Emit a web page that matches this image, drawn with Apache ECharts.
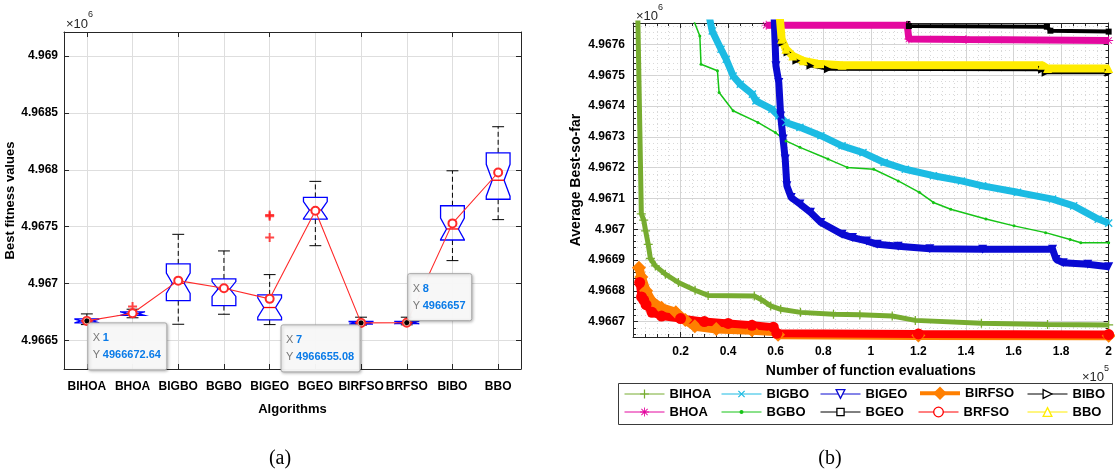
<!DOCTYPE html>
<html>
<head>
<meta charset="utf-8">
<title>Boxplot and convergence curves</title>
<script src="https://cdn.jsdelivr.net/npm/echarts@6.0.0/dist/echarts.min.js"></script>
<style>
html,body{margin:0;padding:0;background:#ffffff;}
#chart{width:1115px;height:475px;}
</style>
</head>
<body>
<div id="chart"></div>
<script>
// ================= Panel (a): box plot data =================
const algorithms   = ['BIHOA','BHOA','BIGBO','BGBO','BIGEO','BGEO','BIRFSO','BRFSO','BIBO','BBO'];
const lowerWhisker = [4966640, 4966700, 4966643, 4966731, 4966640, 4967333, 4966636, 4966638, 4967202, 4967562];
const q1Values     = [4966655, 4966722, 4966851, 4966807, 4966681, 4967567, 4966645, 4966648, 4967383, 4967741];
const medianValues = [4966672, 4966737, 4967003, 4966953, 4966790, 4967646, 4966655, 4966657, 4967480, 4967908];
const q3Values     = [4966690, 4966751, 4967173, 4967041, 4966901, 4967757, 4966668, 4966668, 4967684, 4968149];
const upperWhisker = [4966734, 4966775, 4967433, 4967287, 4967079, 4967898, 4966705, 4966705, 4967991, 4968378];
const notchHalf    = [15, 15, 90, 65, 85, 75, 10, 10, 95, 140];
const meanValues   = [4966672.64, 4966740, 4967026, 4966959, 4966866, 4967640, 4966655.08, 4966657, 4967529, 4967976];
const outlierPoints = [[1, 4966798], [4, 4967591], [4, 4967602], [4, 4967406]];
const tipIndices   = [0, 6, 7];

// ================= Panel (b): convergence curves [evaluations, value] =================
const curveBIHOA = [[2000, 4967700], [3500, 4967050], [4500, 4967030], [5300, 4966995], [6400, 4966951], [7300, 4966905], [9400, 4966881], [13600, 4966854], [19100, 4966827], [26100, 4966802], [31600, 4966785], [51000, 4966783], [53800, 4966772], [57900, 4966751], [62100, 4966740], [70400, 4966730], [84300, 4966724], [95400, 4966722], [109000, 4966718], [118700, 4966704], [146500, 4966695], [174300, 4966691], [200000, 4966689]];
const curveBHOA  = [[56000, 4967663], [115300, 4967663], [116000, 4967618], [140000, 4967616], [200000, 4967613]];
const curveBIGBO = [[31800, 4967700], [33300, 4967644], [37000, 4967585], [39200, 4967552], [42100, 4967498], [45100, 4967471], [50200, 4967439], [51700, 4967417], [58400, 4967390], [61300, 4967368], [64300, 4967347], [70200, 4967331], [79000, 4967304], [87900, 4967271], [96700, 4967249], [105600, 4967217], [114500, 4967195], [126300, 4967174], [138100, 4967157], [147000, 4967141], [161700, 4967120], [176400, 4967098], [185300, 4967076], [195600, 4967033], [200000, 4967020]];
const curveBGBO  = [[24400, 4967700], [28100, 4967628], [28600, 4967536], [35500, 4967515], [36200, 4967444], [42100, 4967385], [52500, 4967347], [59900, 4967314], [64300, 4967287], [70200, 4967266], [82000, 4967228], [90100, 4967201], [101200, 4967195], [111500, 4967157], [120400, 4967120], [126300, 4967087], [133600, 4967065], [148400, 4967033], [160200, 4967011], [173500, 4966989], [183800, 4966967], [188300, 4966956], [200000, 4966956]];
const curveBIGEO = [[59300, 4967700], [60100, 4967531], [61300, 4967477], [62100, 4967368], [63100, 4967293], [64000, 4967228], [64700, 4967141], [66500, 4967103], [70200, 4967082], [74600, 4967055], [79000, 4967022], [87900, 4966984], [92300, 4966973], [98200, 4966962], [102700, 4966951], [111500, 4966945], [124800, 4966937], [147000, 4966935], [176400, 4966935], [177900, 4966902], [180900, 4966891], [191200, 4966886], [200000, 4966878]];
const curveBGEO  = [[115300, 4967700], [116000, 4967660], [174000, 4967658], [175500, 4967645], [200000, 4967642]];
const curveBIRFSO = [[2500, 4966875], [3500, 4966845], [5500, 4966800], [8000, 4966765], [12000, 4966745], [18000, 4966730], [22000, 4966705], [26000, 4966685], [35000, 4966676], [50000, 4966672], [59500, 4966668], [61000, 4966657], [120000, 4966655], [200000, 4966654]];
const curveBRFSO = [[2800, 4966827], [3600, 4966780], [4500, 4966770], [5500, 4966755], [8000, 4966730], [12000, 4966718], [20000, 4966710], [30000, 4966700], [40000, 4966694], [50000, 4966688], [59000, 4966682], [60500, 4966662], [120000, 4966660], [200000, 4966658]];
const curveBIBO  = [[61300, 4967700], [62800, 4967606], [65000, 4967574], [68700, 4967547], [74600, 4967531], [82000, 4967520], [172000, 4967518], [173500, 4967508], [200000, 4967508]];
const curveBBO   = [[61600, 4967700], [62500, 4967617], [64300, 4967585], [67200, 4967563], [71700, 4967547], [77600, 4967538], [87900, 4967533], [172000, 4967533], [174300, 4967522], [200000, 4967522]];

// ================= styling =================
const FONT = "'Liberation Sans', Arial, sans-serif";
const AX = '#262626';
const PLUS = 'path://M4.3,0H5.7V10H4.3Z M0,4.3H10V5.7H0Z';
const PLUS_BOLD = 'path://M3.9,0H6.1V10H3.9Z M0,3.9H10V6.1H0Z';
const STAR = 'path://M4.5,0H5.5V10H4.5Z M0,4.5H10V5.5H0Z M1.1,1.8L1.8,1.1L8.9,8.2L8.2,8.9Z M8.2,1.1L8.9,1.8L1.8,8.9L1.1,8.2Z';

const convOrder = ['BIHOA','BHOA','BIGBO','BGBO','BIGEO','BGEO','BIRFSO','BRFSO','BIBO','BBO'];
const convData = {BIHOA: curveBIHOA, BHOA: curveBHOA, BIGBO: curveBIGBO, BGBO: curveBGBO, BIGEO: curveBIGEO,
                  BGEO: curveBGEO, BIRFSO: curveBIRFSO, BRFSO: curveBRFSO, BIBO: curveBIBO, BBO: curveBBO};
const convStyle = {
  BIHOA:  {color:'#77ac30', width:5,   symbol:PLUS,       size:9,  rot:0,   legLine:1, legH:11, hollow:false},
  BHOA:   {color:'#e4089f', width:7,   symbol:STAR,       size:9,  rot:0,   legLine:1, legH:11, hollow:false},
  BIGBO:  {color:'#1cbbe3', width:7,   symbol:PLUS,       size:10, rot:45,  legLine:1, legH:11, hollow:false},
  BGBO:   {color:'#16c416', width:1.5, symbol:'circle',   size:3,  rot:0,   legLine:1, legH:5,  hollow:false},
  BIGEO:  {color:'#0a0ad2', width:7,   symbol:'triangle', size:9,  rot:180, legLine:1, legH:11, hollow:true},
  BGEO:   {color:'#000000', width:4,   symbol:'rect',     size:6,  rot:0,   legLine:1, legH:9,  hollow:true},
  BIRFSO: {color:'#ff7f00', width:9,   symbol:'diamond',  size:14, rot:0,   legLine:4, legH:17, hollow:false},
  BRFSO:  {color:'#ff0000', width:8,   symbol:'circle',   size:11, rot:0,   legLine:1, legH:12, hollow:true},
  BIBO:   {color:'#000000', width:3,   symbol:'triangle', size:8,  rot:-90, legLine:1, legH:11, hollow:true},
  BBO:    {color:'#ffec00', width:8,   symbol:'triangle', size:9,  rot:0,   legLine:1, legH:11, hollow:true}
};
const legendLayout = {
  BIHOA:[624,395], BIGBO:[721,395], BIGEO:[820,395], BIRFSO:[918,395], BIBO:[1027,395],
  BHOA:[624,413],  BGBO:[721,413],  BGEO:[820,413],  BRFSO:[918,413],  BBO:[1027,413]
};
const tipPlacement = ['rd', 'ld', 'ru'];

// tip font (narrow if available)
const measureCtx = document.createElement('canvas').getContext('2d');
const narrowOK = (() => {
  measureCtx.font = "bold 13px monospace"; const a = measureCtx.measureText('4966672.64').width;
  measureCtx.font = "bold 13px 'Liberation Sans Narrow', monospace"; const b = measureCtx.measureText('4966672.64').width;
  return Math.abs(a - b) > 0.5;
})();
const TIP_FONT = narrowOK ? "bold 13px 'Liberation Sans Narrow'" : "bold 11px 'Liberation Sans'";
const TIP_KEY_FONT = narrowOK ? "13px 'Liberation Sans Narrow'" : "11px 'Liberation Sans'";
function textW(font, s) { measureCtx.font = font; return measureCtx.measureText(s).width; }

function fmtMillions(v) { return parseFloat((v / 1e6).toFixed(4)).toString(); }

function renderBox(params, api) {
  const i = api.value(0);
  const med = api.value(3);
  const x = api.coord([i, med])[0];
  const yv = k => api.coord([i, api.value(k)])[1];
  const yLW = yv(1), yQ1 = yv(2), yMed = yv(3), yQ3 = yv(4), yUW = yv(5);
  const nh = api.value(6);
  const yNH = api.coord([i, med + nh])[1];
  const yNL = api.coord([i, med - nh])[1];
  const band = api.size([1, 0])[0];
  const w = band * 0.26, wn = w * 0.5, wc = w * 0.5;
  const dash = {stroke:'#000', lineWidth:1, lineDash:[5, 3]};
  const solid = {stroke:'#000', lineWidth:1};
  return {type:'group', children:[
    {type:'line', shape:{x1:x, y1:yQ3, x2:x, y2:yUW}, style:dash},
    {type:'line', shape:{x1:x, y1:yQ1, x2:x, y2:yLW}, style:dash},
    {type:'line', shape:{x1:x-wc, y1:yUW, x2:x+wc, y2:yUW}, style:solid},
    {type:'line', shape:{x1:x-wc, y1:yLW, x2:x+wc, y2:yLW}, style:solid},
    {type:'polygon', shape:{points:[[x-w,yQ3],[x+w,yQ3],[x+w,yNH],[x+wn,yMed],[x+w,yNL],[x+w,yQ1],[x-w,yQ1],[x-w,yNL],[x-wn,yMed],[x-w,yNH]]},
     style:{fill:'none', stroke:'#0000ff', lineWidth:1.3}},
    {type:'line', shape:{x1:x-wn, y1:yMed, x2:x+wn, y2:yMed}, style:{stroke:'#ff0000', lineWidth:1.3}}
  ]};
}

function renderTip(params, api) {
  const idx = api.value(0), val = api.value(1);
  const p = api.coord([idx, val]);
  const place = tipPlacement[params.dataIndex];
  const valStr = String(meanValues[idx]);
  const w = Math.round(15 + textW(TIP_FONT, valStr) + 6), h = 47;
  const x = place[0] === 'r' ? p[0] + 1 : p[0] - w - 1;
  const y = place[1] === 'd' ? p[1] + 2 : p[1] - h - 2;
  return {type:'group', children:[
    {type:'rect', shape:{x:x, y:y, width:w, height:h, r:2},
     style:{fill:'rgba(249,249,249,0.97)', stroke:'#a8a8a8', lineWidth:1, shadowBlur:3, shadowColor:'rgba(0,0,0,0.25)', shadowOffsetX:1, shadowOffsetY:1}},
    {type:'text', style:{x:x+5, y:y+15, text:'X', font:TIP_KEY_FONT, fill:'#777', verticalAlign:'middle'}},
    {type:'text', style:{x:x+15, y:y+15, text:String(idx + 1), font:TIP_FONT, fill:'#0a7be8', verticalAlign:'middle'}},
    {type:'text', style:{x:x+5, y:y+32, text:'Y', font:TIP_KEY_FONT, fill:'#777', verticalAlign:'middle'}},
    {type:'text', style:{x:x+15, y:y+32, text:valStr, font:TIP_FONT, fill:'#0a7be8', verticalAlign:'middle'}},
    {type:'circle', shape:{cx:p[0], cy:p[1], r:3}, style:{fill:'#000', stroke:'#f4a08a', lineWidth:1}}
  ]};
}

const labelStyle = {color:'#000', fontSize:12, fontWeight:'bold', fontFamily:FONT};
const nameStyleA = {color:'#000', fontSize:13, fontWeight:'bold', fontFamily:FONT};
const nameStyleB = {color:'#000', fontSize:14, fontWeight:'bold', fontFamily:FONT};
const axLine = {show:true, onZero:false, lineStyle:{color:AX, width:1}};

const boxData = algorithms.map((_, i) => [i, lowerWhisker[i], q1Values[i], medianValues[i], q3Values[i], upperWhisker[i], notchHalf[i]]);

const convSeries = convOrder.map(name => {
  const st = convStyle[name];
  return {
    name: name, type:'line', xAxisIndex:2, yAxisIndex:2, data: convData[name],
    showSymbol:true, showAllSymbol:true, symbol: st.symbol, symbolSize: st.size, symbolRotate: st.rot,
    itemStyle:{color: st.color}, lineStyle:{color: st.color, width: st.width}, clip:true, silent:true
  };
});

const legends = convOrder.map(name => {
  const st = convStyle[name];
  const lay = legendLayout[name];
  const boxH = Math.max(st.legH, 15);
  const leg = {
    data:[name], left: lay[0], top: lay[1] - boxH / 2, padding:0, itemGap:0,
    itemWidth:40, itemHeight: st.legH, selectedMode:false,
    textStyle:{fontFamily:FONT, fontSize:13, fontWeight:'bold', color:'#000'},
    lineStyle:{width: st.legLine}
  };
  if (st.hollow) leg.itemStyle = {color:'#ffffff', borderColor: st.color, borderWidth:1.3};
  return leg;
});

const option = {
  animation:false,
  backgroundColor:'#ffffff',
  textStyle:{fontFamily:FONT},
  grid:[
    {left:64, top:32, width:457, height:337},
    {left:633, top:23, width:480, height:314}
  ],
  legend: legends,
  xAxis:[
    {gridIndex:0, type:'category', data:algorithms, position:'bottom', boundaryGap:true,
     axisLine:axLine, axisTick:{show:true, alignWithLabel:true, inside:true, length:5, lineStyle:{color:AX}},
     axisLabel:Object.assign({margin:12, interval:0}, labelStyle),
     splitLine:{show:true, alignWithLabel:true, lineStyle:{color:'#dedede', width:1}},
     name:'Algorithms', nameLocation:'middle', nameGap:34, nameTextStyle:nameStyleA},
    {gridIndex:0, type:'category', data:algorithms, position:'top', boundaryGap:true,
     axisLine:axLine, axisTick:{show:true, alignWithLabel:true, inside:true, length:5, lineStyle:{color:AX}},
     axisLabel:{show:false}, splitLine:{show:false}},
    {gridIndex:1, type:'value', min:0, max:200000, interval:20000, position:'bottom',
     axisLine:axLine, axisTick:{show:true, inside:true, length:5, lineStyle:{color:AX}},
     minorTick:{show:true, splitNumber:4, length:3, lineStyle:{color:AX}},
     axisLabel:Object.assign({margin:9, showMinLabel:false, formatter: v => v === 0 ? '' : String(v / 1e5)}, labelStyle),
     splitLine:{show:true, lineStyle:{color:'#d4d4d4', width:1}},
     minorSplitLine:{show:true, lineStyle:{color:'#d9d9d9', width:1, type:[1, 3]}},
     name:'Number of function evaluations', nameLocation:'middle', nameGap:27, nameTextStyle:nameStyleB},
    {gridIndex:1, type:'value', min:0, max:200000, interval:20000, position:'top',
     axisLine:axLine, axisTick:{show:true, inside:true, length:5, lineStyle:{color:AX}},
     minorTick:{show:true, splitNumber:4, length:3, lineStyle:{color:AX}},
     axisLabel:{show:false}, splitLine:{show:false}}
  ],
  yAxis:[
    {gridIndex:0, type:'value', min:4966250, max:4969210, splitNumber:6, position:'left',
     axisLine:axLine, axisTick:{show:true, inside:true, length:5, lineStyle:{color:AX}},
     axisLabel:Object.assign({margin:6, showMinLabel:false, showMaxLabel:false, formatter: fmtMillions}, labelStyle),
     splitLine:{show:true, lineStyle:{color:'#dedede', width:1}},
     name:'Best fitness values', nameLocation:'middle', nameGap:42, nameTextStyle:nameStyleA},
    {gridIndex:0, type:'value', min:4966250, max:4969210, splitNumber:6, position:'right',
     axisLine:axLine, axisTick:{show:true, inside:true, length:5, lineStyle:{color:AX}},
     axisLabel:{show:false}, splitLine:{show:false}},
    {gridIndex:1, type:'value', min:4966650, max:4967670, splitNumber:10, position:'left',
     axisLine:axLine, axisTick:{show:true, inside:true, length:5, lineStyle:{color:AX}},
     minorTick:{show:true, splitNumber:5, length:3, lineStyle:{color:AX}},
     axisLabel:Object.assign({margin:8, showMinLabel:false, showMaxLabel:false, formatter: fmtMillions}, labelStyle),
     splitLine:{show:true, lineStyle:{color:'#d4d4d4', width:1}},
     minorSplitLine:{show:true, lineStyle:{color:'#d9d9d9', width:1, type:[1, 3]}},
     name:'Average Best-so-far', nameLocation:'middle', nameGap:50, nameTextStyle:nameStyleB},
    {gridIndex:1, type:'value', min:4966650, max:4967670, splitNumber:10, position:'right',
     axisLine:axLine, axisTick:{show:true, inside:true, length:5, lineStyle:{color:AX}},
     minorTick:{show:true, splitNumber:5, length:3, lineStyle:{color:AX}},
     axisLabel:{show:false}, splitLine:{show:false}}
  ],
  series:[
    {name:'boxes', type:'custom', xAxisIndex:0, yAxisIndex:0, data:boxData, renderItem:renderBox,
     encode:{x:0, y:[1,2,3,4,5]}, z:3, silent:true},
    {name:'outliers', type:'scatter', xAxisIndex:0, yAxisIndex:0, data:outlierPoints,
     symbol:PLUS_BOLD, symbolSize:9, itemStyle:{color:'#ff1a1a'}, z:4, silent:true},
    {name:'means', type:'line', xAxisIndex:0, yAxisIndex:0, data:meanValues,
     symbol:'emptyCircle', symbolSize:8, lineStyle:{color:'#ff2a2a', width:1.1},
     itemStyle:{color:'#ff2a2a', borderWidth:1.1}, z:5, silent:true},
    {name:'datatips', type:'custom', xAxisIndex:0, yAxisIndex:0,
     data: tipIndices.map(i => [i, meanValues[i]]), renderItem:renderTip, z:10, silent:true, clip:false}
  ].concat(convSeries),
  graphic:[
    {type:'rect', shape:{x:618.5, y:383.5, width:494, height:41}, style:{fill:'#ffffff', stroke:'#3a3a3a', lineWidth:1}, z:-1},
    {type:'text', x:66, y:24, style:{text:'×10', font:"13px 'Liberation Sans'", fill:'#262626', verticalAlign:'middle'}},
    {type:'text', x:88, y:15, style:{text:'6', font:"9px 'Liberation Sans'", fill:'#262626', verticalAlign:'middle'}},
    {type:'text', x:636, y:16, style:{text:'×10', font:"13px 'Liberation Sans'", fill:'#262626', verticalAlign:'middle'}},
    {type:'text', x:658, y:8, style:{text:'6', font:"9px 'Liberation Sans'", fill:'#262626', verticalAlign:'middle'}},
    {type:'text', x:1082, y:377, style:{text:'×10', font:"13px 'Liberation Sans'", fill:'#262626', verticalAlign:'middle'}},
    {type:'text', x:1104, y:369, style:{text:'5', font:"9px 'Liberation Sans'", fill:'#262626', verticalAlign:'middle'}},
    {type:'text', x:280, y:459, style:{text:'(a)', font:"20px 'Liberation Serif'", fill:'#000', align:'center', verticalAlign:'middle'}},
    {type:'text', x:830, y:459, style:{text:'(b)', font:"20px 'Liberation Serif'", fill:'#000', align:'center', verticalAlign:'middle'}}
  ]
};

const chart = echarts.init(document.getElementById('chart'), null, {renderer:'canvas'});
chart.setOption(option);
</script>
</body>
</html>
